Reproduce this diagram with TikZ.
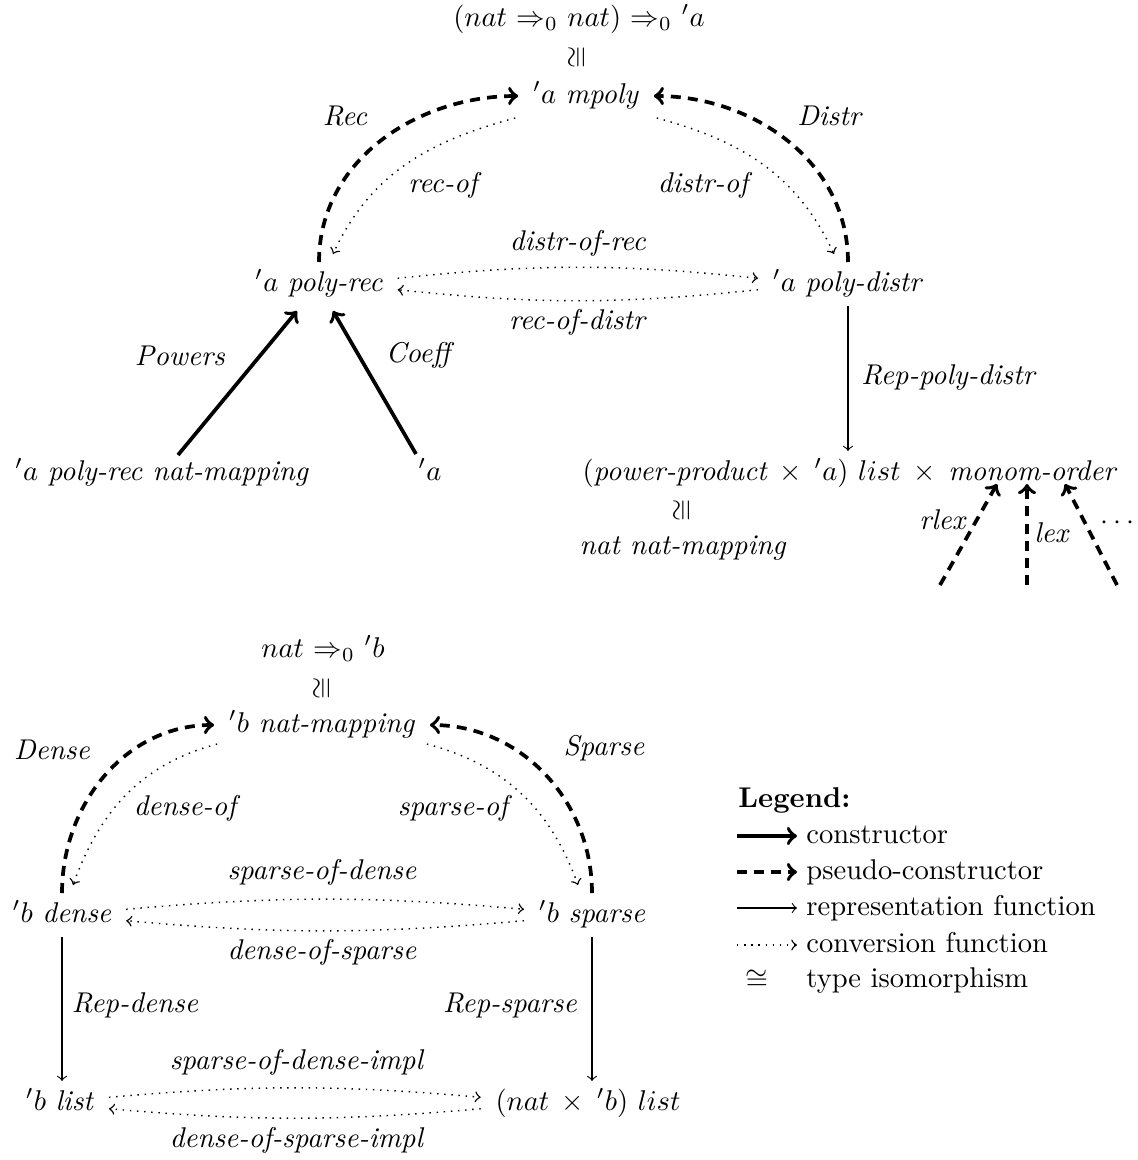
\documentclass[tikz,border=0pt]{standalone}
\usepackage{amsmath,amssymb}
\newcommand{\mytimes}{\mskip4mu\times\mskip4mu}
\newcommand{\myarr}{\mskip1mu\Rightarrow_0\mskip1mu}
\begin{document}
\begin{tikzpicture}[x=0.35pt,y=0.35pt,
  tynode/.style={inner xsep=5pt,inner ysep=3pt,text height=7pt,text depth=2pt},
  lbl/.style={inner sep=1pt,text height=7pt,text depth=2pt},
  cons/.style={->,line width=1.3pt},
  pcons/.style={->,line width=1.3pt,dash pattern=on 3.5pt off 2.5pt},
  rep/.style={->,thin},
  conv/.style={->,line width=0.5pt,dotted}]
\useasboundingbox (0,0) rectangle (1137,-1160);

% ---------- upper diagram ----------
\node[tynode] (top) at (579,-19) {$(nat \myarr nat) \myarr {}'a$};
\node[rotate=90,inner sep=1pt] (iso1) at (578,-57) {$\cong$};
\node[tynode] (mpoly) at (586,-96) {$'a$ \textit{mpoly}};
\node[tynode] (polyrec) at (319,-284) {$'a$ \textit{poly-rec}};
\node[tynode] (polydistr) at (848,-284) {$'a$ \textit{poly-distr}};
\node[tynode] (prnm) at (162,-473) {$'a$ \textit{poly-rec nat-mapping}};
\node[tynode] (acoef) at (430,-473) {$'a$};
\node[tynode] (pplist) at (849,-473) {$(\textit{power-product} \mytimes {}'a)\ list \mytimes \textit{monom-order}$};
\node[rotate=90,inner sep=1pt] (iso2) at (683,-510) {$\cong$};
\node[tynode] (nnm) at (683,-547) {\textit{nat nat-mapping}};

\draw[pcons] (polyrec.north) to[out=90,in=180] (mpoly.west);
\draw[pcons] (polydistr.north) to[out=90,in=0] (mpoly.east);
\draw[conv] ([shift={(-3,0)}]mpoly.south west) to[out=195,in=65] ([shift={(14,8)}]polyrec.north);
\draw[conv] ([shift={(3,0)}]mpoly.south east) to[out=-15,in=115] ([shift={(-14,8)}]polydistr.north);
\draw[conv] ([yshift=2pt]polyrec.east) to[bend left=6] ([yshift=2pt]polydistr.west);
\draw[conv] ([yshift=-2pt]polydistr.west) to[bend left=6] ([yshift=-2pt]polyrec.east);
\draw[cons] ([shift={(16,-4)}]prnm.north) -- ([shift={(-22,-5)}]polyrec.south);
\draw[cons] ([shift={(-14,-3)}]acoef.north) -- ([shift={(14,-5)}]polyrec.south);
\draw[rep] (polydistr.south) -- (polydistr.south |- pplist.north);

\coordinate (r1) at (940,-585);
\coordinate (r2) at (1027,-585);
\coordinate (r3) at (1117,-585);
\draw[pcons] (r1) -- ([shift={(148,11)}]pplist.south);
\draw[pcons] (r2) -- ([shift={(178,11)}]pplist.south);
\draw[pcons] (r3) -- ([shift={(216,11)}]pplist.south);

\node[lbl] (lRec) at (345,-118) {\textit{Rec}};
\node[lbl] (lDistr) at (830,-118) {\textit{Distr}};
\node[lbl] (lrecof) at (445,-185) {\textit{rec-of}};
\node[lbl] (ldistrof) at (705,-185) {\textit{distr-of}};
\node[lbl] (ldor) at (578,-243) {\textit{distr-of-rec}};
\node[lbl] (lrod) at (578,-322) {\textit{rec-of-distr}};
\node[lbl] (lPowers) at (180,-358) {\textit{Powers}};
\node[lbl] (lCoeff) at (420,-355) {\textit{Coeff}};
\node[lbl,anchor=west] (lRepPD) at (858,-377) {\textit{Rep-poly-distr}};
\node[lbl] (lrlex) at (943,-522) {\textit{rlex}};
\node[lbl] (llex) at (1052,-535) {\textit{lex}};
\node[lbl] (ldots) at (1120,-522) {$\cdots$};

% ---------- lower diagram ----------
\node[tynode] (btop) at (323,-650) {$nat \myarr {}'b$};
\node[rotate=90,inner sep=1pt] (iso3) at (323,-688) {$\cong$};
\node[tynode] (bnm) at (322,-725) {$'b$ \textit{nat-mapping}};
\node[tynode] (bdense) at (62,-915) {$'b$ \textit{dense}};
\node[tynode] (bsparse) at (592,-915) {$'b$ \textit{sparse}};
\node[tynode] (blist) at (60,-1103) {$'b$ \textit{list}};
\node[tynode] (nblist) at (588,-1103) {$(nat \mytimes {}'b)\ list$};

\draw[pcons] (bdense.north) to[out=90,in=180] (bnm.west);
\draw[pcons] (bsparse.north) to[out=90,in=0] (bnm.east);
\draw[conv] ([shift={(3,3)}]bnm.south west) to[out=195,in=70] ([shift={(11,8)}]bdense.north);
\draw[conv] ([shift={(-3,3)}]bnm.south east) to[out=-15,in=110] ([shift={(-14,8)}]bsparse.north);
\draw[conv] ([yshift=2pt]bdense.east) to[bend left=5] ([yshift=2pt]bsparse.west);
\draw[conv] ([yshift=-2pt]bsparse.west) to[bend left=5] ([yshift=-2pt]bdense.east);
\draw[rep] (bdense.south) -- (bdense.south |- blist.north);
\draw[rep] (bsparse.south) -- (bsparse.south |- nblist.north);
\draw[conv] ([yshift=2pt]blist.east) to[bend left=5] ([yshift=2pt]nblist.west);
\draw[conv] ([yshift=-2pt]nblist.west) to[bend left=5] ([yshift=-2pt]blist.east);

\node[lbl] (lDense) at (52,-752) {\textit{Dense}};
\node[lbl] (lSparse) at (604,-748) {\textit{Sparse}};
\node[lbl] (ldenseof) at (187,-808) {\textit{dense-of}};
\node[lbl] (lsparseof) at (455,-808) {\textit{sparse-of}};
\node[lbl] (lsod) at (322,-872) {\textit{sparse-of-dense}};
\node[lbl] (ldos) at (322,-952) {\textit{dense-of-sparse}};
\node[lbl] (lRepD) at (135,-1005) {\textit{Rep-dense}};
\node[lbl] (lRepS) at (510,-1005) {\textit{Rep-sparse}};
\node[lbl] (lsodi) at (297,-1062) {\textit{sparse-of-dense-impl}};
\node[lbl] (ldosi) at (297,-1140) {\textit{dense-of-sparse-impl}};

% ---------- legend ----------
\node[lbl,anchor=west] (leg) at (735,-800) {\textbf{Legend:}};
\coordinate (a1) at (737,-836); \coordinate (b1) at (797,-836);
\coordinate (a2) at (737,-872); \coordinate (b2) at (797,-872);
\coordinate (a3) at (737,-908); \coordinate (b3) at (797,-908);
\coordinate (a4) at (737,-945); \coordinate (b4) at (797,-945);
\draw[cons] (a1) -- (b1);
\draw[pcons] (a2) -- (b2);
\draw[rep] (a3) -- (b3);
\draw[conv] (a4) -- (b4);
\node[lbl,anchor=west] (t1) at (803,-836) {constructor};
\node[lbl,anchor=west] (t2) at (803,-872) {pseudo-constructor};
\node[lbl,anchor=west] (t3) at (803,-908) {representation function};
\node[lbl,anchor=west] (t4) at (803,-945) {conversion function};
\node[inner sep=0pt] (t5i) at (757,-980) {$\cong$};
\node[lbl,anchor=west] (t5) at (803,-980) {type isomorphism};
\end{tikzpicture}
\end{document}
